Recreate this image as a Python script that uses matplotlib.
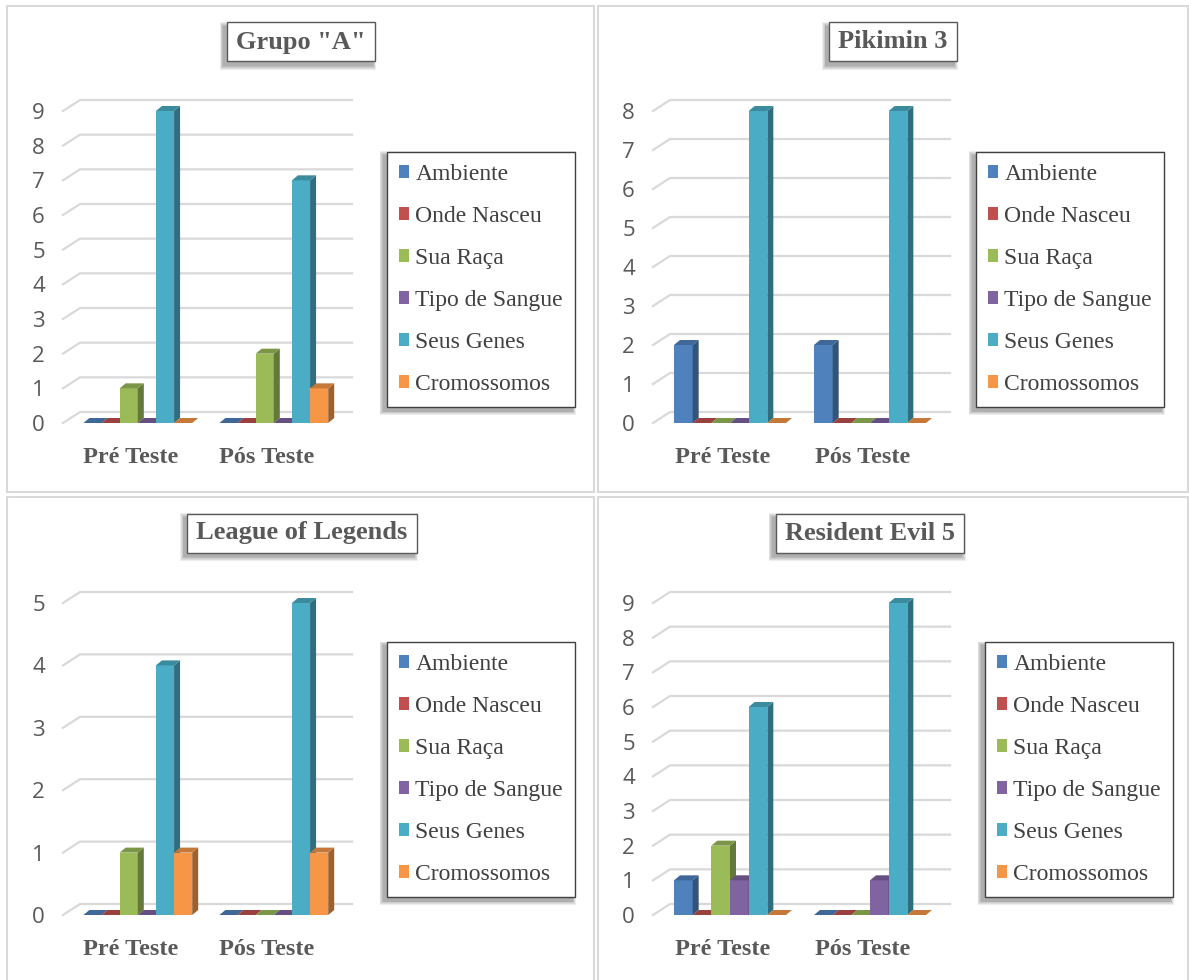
import matplotlib
matplotlib.use("Agg")
import matplotlib.pyplot as plt
import numpy as np
from matplotlib.patches import Rectangle, Patch
from matplotlib.colors import to_rgb
from matplotlib.transforms import ScaledTranslation

W, H, DPI = 1189, 980, 100

# ---- data -------------------------------------------------------------
series = ["Ambiente", "Onde Nasceu", "Sua Raça", "Tipo de Sangue",
          "Seus Genes", "Cromossomos"]
series_colors = ["#4F81BD", "#C0504D", "#9BBB59", "#8064A2", "#4BACC6", "#F79646"]
stages = ["Pré Teste", "Pós Teste"]

grupo_a_pre = [0, 0, 1, 0, 9, 0]
grupo_a_pos = [0, 0, 2, 0, 7, 1]
pikimin_pre = [2, 0, 0, 0, 8, 0]
pikimin_pos = [2, 0, 0, 0, 8, 0]
lol_pre = [0, 0, 1, 0, 4, 1]
lol_pos = [0, 0, 0, 0, 5, 1]
re5_pre = [1, 0, 2, 1, 6, 0]
re5_pos = [0, 0, 0, 1, 9, 0]

titles = ['Grupo "A"', "Pikimin 3", "League of Legends", "Resident Evil 5"]
y_max = [9, 8, 5, 9]

# ---- layout (pixels) --------------------------------------------------
# front plane of each plot: x-left, x-right, y-top (at y_max), y-bottom (at 0)
plot_px = [(63, 335, 111, 423), (653, 933, 111, 423),
           (63, 335, 603, 915), (653, 933, 603, 915)]
title_center = [(301, 42), (893, 42), (302, 533), (870, 533)]
legend_topleft = [(387, 152), (976, 152), (387, 642), (985, 642)]
frames = [(7, 6, 594, 492), (598, 6, 1188, 492),
          (7, 497, 594, 985), (598, 497, 1188, 985)]

GRID_C = "#d9d9d9"
TEXT_C = "#595959"
SERIF = "Liberation Serif"
XLIM = (-0.55, 1.45)

plt.rcParams["font.family"] = ["Open Sans", "DejaVu Sans"]
fig = plt.figure(figsize=(W / DPI, H / DPI), dpi=DPI)
fig.patch.set_facecolor("white")


def shade(c, f):
    r, g, b = to_rgb(c)
    return (r * f, g * f, b * f)


def soft_shadow(x0, y0, x1, y1, dx=-3, dy=4, steps=5):
    """Blurry drop shadow around a pixel box (top-left origin)."""
    for k in range(steps, 0, -1):
        e = k * 0.9
        fig.patches.append(Rectangle(
            ((x0 + dx - e) / W, 1 - (y1 + dy + e) / H),
            (x1 - x0 + 2 * e) / W, (y1 - y0 + 2 * e) / H,
            transform=fig.transFigure, facecolor="#000000",
            edgecolor="none", alpha=0.07, zorder=-2))


def draw_panel(i, pre, pos):
    x0, x1, yt, yb = plot_px[i]
    ymax = y_max[i]
    ax = fig.add_axes([x0 / W, 1 - yb / H, (x1 - x0) / W, (yb - yt) / H])
    ax.set_xlim(*XLIM)
    ax.set_ylim(0, ymax)
    ax.patch.set_visible(False)
    for s in ax.spines.values():
        s.set_visible(False)

    ux = (XLIM[1] - XLIM[0]) / (x1 - x0)
    uy = ymax / (yb - yt)
    gdx, gdy = 17 * ux, 11 * uy      # depth of the walls
    bdx, bdy = 6 * ux, 5 * uy        # depth of each column

    # gridlines on the side wall and back wall
    for t in range(ymax + 1):
        ax.plot([XLIM[0], XLIM[0] + gdx, XLIM[1] + gdx], [t, t + gdy, t + gdy],
                color=GRID_C, lw=1.6, clip_on=False, zorder=1,
                solid_joinstyle="miter")

    nb = len(series)
    bw = 0.8 / nb
    for gi, vals in enumerate([pre, pos]):
        for si, v in enumerate(vals):
            left = gi - 0.4 + si * bw
            c = series_colors[si]
            ax.bar(left, v, width=bw, align="edge", color=c, linewidth=0,
                   zorder=2, clip_on=False)
            ax.fill([left + bw, left + bw + bdx, left + bw + bdx, left + bw],
                    [0, bdy, v + bdy, v], color=shade(c, 0.64), lw=0,
                    zorder=2, clip_on=False)
            ax.fill([left, left + bdx, left + bw + bdx, left + bw],
                    [v, v + bdy, v + bdy, v], color=shade(c, 0.8), lw=0,
                    zorder=2, clip_on=False)

    ax.set_yticks(range(ymax + 1))
    ax.tick_params(axis="y", length=0, pad=13, labelsize=16,
                   labelcolor=TEXT_C)
    ax.set_xticks([0, 1], stages)
    ax.tick_params(axis="x", length=0, pad=17)
    for lbl in ax.get_xticklabels():
        lbl.set_fontfamily(SERIF)
        lbl.set_fontweight("bold")
        lbl.set_fontsize(17.5)
        lbl.set_color(TEXT_C)
        lbl.set_transform(lbl.get_transform() +
                          ScaledTranslation(-7 / DPI, 0, fig.dpi_scale_trans))

    handles = [Patch(facecolor=c, edgecolor="none") for c in series_colors]
    lx, ly = legend_topleft[i]
    leg = ax.legend(handles, series, loc="upper left",
                    bbox_to_anchor=(lx / W, 1 - ly / H),
                    bbox_transform=fig.transFigure, borderaxespad=0,
                    frameon=True, fancybox=False, framealpha=1,
                    edgecolor="#404040",
                    prop={"family": SERIF, "size": 17},
                    labelcolor="#404040", handlelength=0.45,
                    handleheight=0.45, handletextpad=0.25,
                    labelspacing=0.89, borderpad=0.5)
    leg.get_frame().set_linewidth(1.0)
    for txt in leg.get_texts():
        txt.set_fontfamily(SERIF)
        txt.set_fontsize(17)

    cx, cy = title_center[i]
    t = fig.text(cx / W, 1 - cy / H, titles[i], ha="center", va="center",
                 family=SERIF, weight="bold", size=19,
                 color=TEXT_C, zorder=5)
    return ax, leg, t


# panel frames
for (a, b, c, d) in frames:
    fig.patches.append(Rectangle((a / W, 1 - d / H), (c - a) / W, (d - b) / H,
                                 transform=fig.transFigure, facecolor="none",
                                 edgecolor=GRID_C, lw=1.5, zorder=-3))

data = [(grupo_a_pre, grupo_a_pos), (pikimin_pre, pikimin_pos),
        (lol_pre, lol_pos), (re5_pre, re5_pos)]
made = [draw_panel(i, *d) for i, d in enumerate(data)]

fig.canvas.draw()
renderer = fig.canvas.get_renderer()
for ax, leg, t in made:
    # legend shadow
    bb = leg.get_window_extent(renderer)
    soft_shadow(bb.x0, H - bb.y1, bb.x1, H - bb.y0)
    # framed title box with shadow
    tb = t.get_window_extent(renderer)
    padx = 9
    cy = H - (tb.y0 + tb.y1) / 2
    bx0, bx1 = tb.x0 - padx, tb.x1 + padx
    by0, by1 = cy - 19.5, cy + 19.5
    soft_shadow(bx0, by0, bx1, by1)
    fig.patches.append(Rectangle((bx0 / W, 1 - by1 / H), (bx1 - bx0) / W,
                                 (by1 - by0) / H, transform=fig.transFigure,
                                 facecolor="white", edgecolor="#595959",
                                 lw=1.0, zorder=4))

fig.savefig("out.png", dpi=DPI, facecolor="white")
